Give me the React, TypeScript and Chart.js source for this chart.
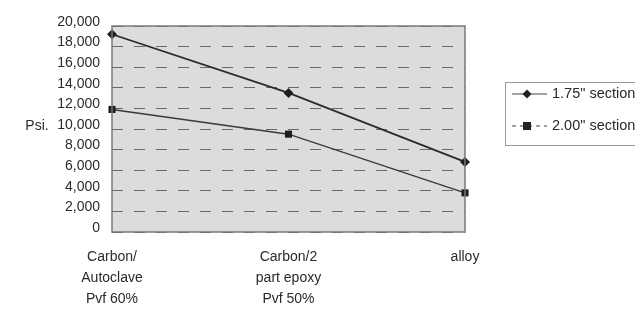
import React, { useEffect, useRef } from "react";
import { Chart, registerables } from "chart.js";

Chart.register(...registerables);

const categories: string[][] = [
  ["Carbon/", "Autoclave", "Pvf 60%"],
  ["Carbon/2", "part epoxy", "Pvf 50%"],
  ["alloy"],
];
const series175: number[] = [19200, 13500, 6800];
const series200: number[] = [11900, 9500, 3800];
const seriesLabels: string[] = ['1.75" section', '2.00" section'];
const yTitle = "Psi.";

const FONT = "'Liberation Sans', Arial, sans-serif";

const decorPlugin = {
  id: "decor",
  beforeDraw(chart: any) {
    const { ctx, chartArea } = chart;
    ctx.save();
    ctx.fillStyle = "#ffffff";
    ctx.fillRect(0, 0, chart.width, chart.height);
    ctx.fillStyle = "#dcdcdc";
    ctx.fillRect(chartArea.left, chartArea.top, chartArea.right - chartArea.left, chartArea.bottom - chartArea.top);
    ctx.restore();
  },
  afterDatasetsDraw(chart: any) {
    const { ctx, chartArea } = chart;
    ctx.save();
    ctx.strokeStyle = "#7a7a7a";
    ctx.lineWidth = 1.5;
    ctx.strokeRect(chartArea.left, chartArea.top, chartArea.right - chartArea.left, chartArea.bottom - chartArea.top);
    // y title
    const yScale = chart.scales.y;
    ctx.fillStyle = "#2a2a2a";
    ctx.font = `14px ${FONT}`;
    ctx.textAlign = "center";
    ctx.textBaseline = "middle";
    ctx.fillText(yTitle, 37, yScale.getPixelForValue(10000) - 3);
    // legend
    const lx = 505, ly = 82, lw = 160, lh = 63;
    ctx.strokeStyle = "#9a9a9a";
    ctx.lineWidth = 1;
    ctx.strokeRect(lx + 0.5, ly + 0.5, lw, lh);
    chart.data.datasets.forEach((ds: any, i: number) => {
      const y = i === 0 ? 94 : 126;
      ctx.strokeStyle = "#444";
      ctx.lineWidth = 1.2;
      ctx.setLineDash(i === 0 ? [] : [4, 4]);
      ctx.beginPath();
      ctx.moveTo(512, y);
      ctx.lineTo(547, y);
      ctx.stroke();
      ctx.setLineDash([]);
      ctx.fillStyle = "#222";
      if (ds.pointStyle === "rect") {
        ctx.fillRect(527 - 4, y - 4, 8, 8);
      } else {
        ctx.beginPath();
        ctx.moveTo(527, y - 4.5);
        ctx.lineTo(531.5, y);
        ctx.lineTo(527, y + 4.5);
        ctx.lineTo(522.5, y);
        ctx.closePath();
        ctx.fill();
      }
      ctx.fillStyle = "#2a2a2a";
      ctx.font = `14.5px ${FONT}`;
      ctx.textAlign = "left";
      ctx.textBaseline = "middle";
      ctx.fillText(ds.label, 552, y);
    });
    ctx.restore();
  },
};

export default function App() {
  const ref = useRef<HTMLCanvasElement | null>(null);
  useEffect(() => {
    if (!ref.current) return;
    const chart = new Chart(ref.current, {
      type: "line",
      data: {
        labels: categories as any,
        datasets: [
          {
            label: seriesLabels[0],
            data: series175,
            borderColor: "#2a2a2a",
            backgroundColor: "#1e1e1e",
            borderWidth: 1.8,
            pointStyle: "rectRot",
            pointRadius: 5,
            pointBorderWidth: 0,
            tension: 0,
          },
          {
            label: seriesLabels[1],
            data: series200,
            borderColor: "#3a3a3a",
            backgroundColor: "#1e1e1e",
            borderWidth: 1.5,
            pointStyle: "rect",
            pointRadius: 5,
            pointBorderWidth: 0,
            tension: 0,
          },
        ],
      },
      options: {
        responsive: false,
        animation: false,
        devicePixelRatio: 1,
        layout: { padding: { top: 26, right: 170, left: 0, bottom: 0 } },
        plugins: { legend: { display: false }, tooltip: { enabled: false } },
        scales: {
          x: {
            offset: false,
            grid: { display: false, drawTicks: false },
            border: { display: false },
            ticks: {
              color: "#2a2a2a",
              font: { family: FONT, size: 14, lineHeight: 1.5 },
              padding: 15,
              maxRotation: 0,
              autoSkip: false,
            },
            afterFit(scale: any) {
              scale.height = 311 - 232;
            },
          },
          y: {
            min: 0,
            max: 20000,
            grid: {
              color: "#6a6a6a",
              lineWidth: 1,
              drawTicks: false,
            },
            border: { display: false, dash: [11, 11] },
            ticks: {
              stepSize: 2000,
              color: "#2a2a2a",
              font: { family: FONT, size: 14 },
              padding: 12,
              labelOffset: -4,
              callback: (v: any) => Number(v).toLocaleString("en-US"),
            },
            afterFit(scale: any) {
              scale.width = 112;
            },
          },
        },
      },
      plugins: [decorPlugin],
    });
    return () => chart.destroy();
  }, []);
  return (
    <div style={{ position: "fixed", left: 0, top: 0, width: 635, height: 311 }}>
      <canvas ref={ref} width={635} height={311} style={{ width: 635, height: 311 }} />
    </div>
  );
}
